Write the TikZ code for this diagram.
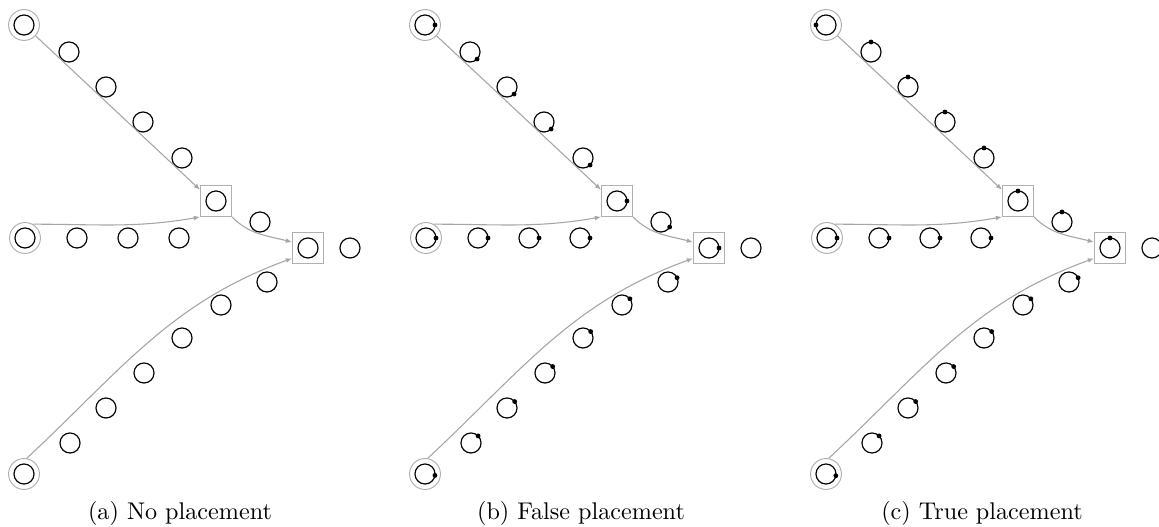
\documentclass[tikz,border=0pt]{standalone}
\usepackage{tikz}
\usetikzlibrary{arrows.meta}
\definecolor{edgegray}{HTML}{A6A6A6}
\definecolor{ringgray}{HTML}{B0B0B0}

\begin{document}
\begin{tikzpicture}[x=0.414pt,y=-0.414pt,
  st/.style={circle,draw=black,line width=0.5pt,minimum size=8.3pt,inner sep=0pt,outer sep=0pt},
  src/.style={circle,draw=ringgray,line width=0.4pt,minimum size=12.8pt,inner sep=0pt},
  bx/.style={rectangle,draw=ringgray,line width=0.4pt,minimum size=12.8pt,inner sep=0pt},
  e/.style={draw=edgegray,line width=0.45pt,-{Latex[length=2.6pt,width=2pt]}}]
  \useasboundingbox (0,0) rectangle (1159,527);
  % three panels, same layout
  \foreach \p/\dx/\cap in {a/0/No placement, b/401/False placement, c/802/True placement}{
    \begin{scope}[shift={(\dx,0)}]
      \node[src] (\p-s1) at (24,25) {}; \node[st] (\p-i1) at (24,25) {};
      \node[src] (\p-s2) at (25,238) {}; \node[st] (\p-i2) at (25,238) {};
      \node[src] (\p-s3) at (24,474) {}; \node[st] (\p-i3) at (24,474) {};
      \node[bx] (\p-k1) at (216,201) {}; \node[st] (\p-j1) at (216,201) {};
      \node[bx] (\p-k2) at (308,248) {}; \node[st] (\p-j2) at (308,248) {};
      \foreach \n/\x/\y in {t1/69/52, t2/106/87, t3/143/122, t4/182/158,
        m1/77/238, m2/128/238, m3/179/238, v/260/222, w/350/248,
        u1/70/443, u2/106/408, u3/144/373, u4/182/338, u5/221/305, u6/267/282}
        \node[st] (\p-\n) at (\x,\y) {};
      \draw[e] (\p-s1) -- (\p-k1.145);
      \draw[e] (\p-s2.60) to[out=0,in=190] (\p-k1.south west);
      \draw[e] (\p-k1.south east) to[out=-45,in=165] (\p-k2.160);
      \draw[e] (\p-s3.80) to[out=43,in=200] (\p-k2.213);
      \node[anchor=base] (\p-cap) at (180,520) {(\p) \cap};
    \end{scope}
  }
  % markers: false placement
  \foreach \n/\a in {i1/0, t1/-45, t2/-45, t3/-45, t4/-45, i2/0, m1/0, m2/0, m3/0,
    j1/0, v/-30, j2/0, i3/-8, u1/45, u2/40, u3/40, u4/40, u5/38, u6/25}
    \fill (b-\n.\a) circle (1pt);
  % markers: true placement
  \foreach \n/\a in {i1/180, t1/90, t2/90, t3/90, t4/90, i2/0, m1/0, m2/0, m3/0,
    j1/90, v/90, j2/90, i3/-10, u1/45, u2/40, u3/40, u4/40, u5/38, u6/25}
    \fill (c-\n.\a) circle (1pt);
\end{tikzpicture}
\end{document}
